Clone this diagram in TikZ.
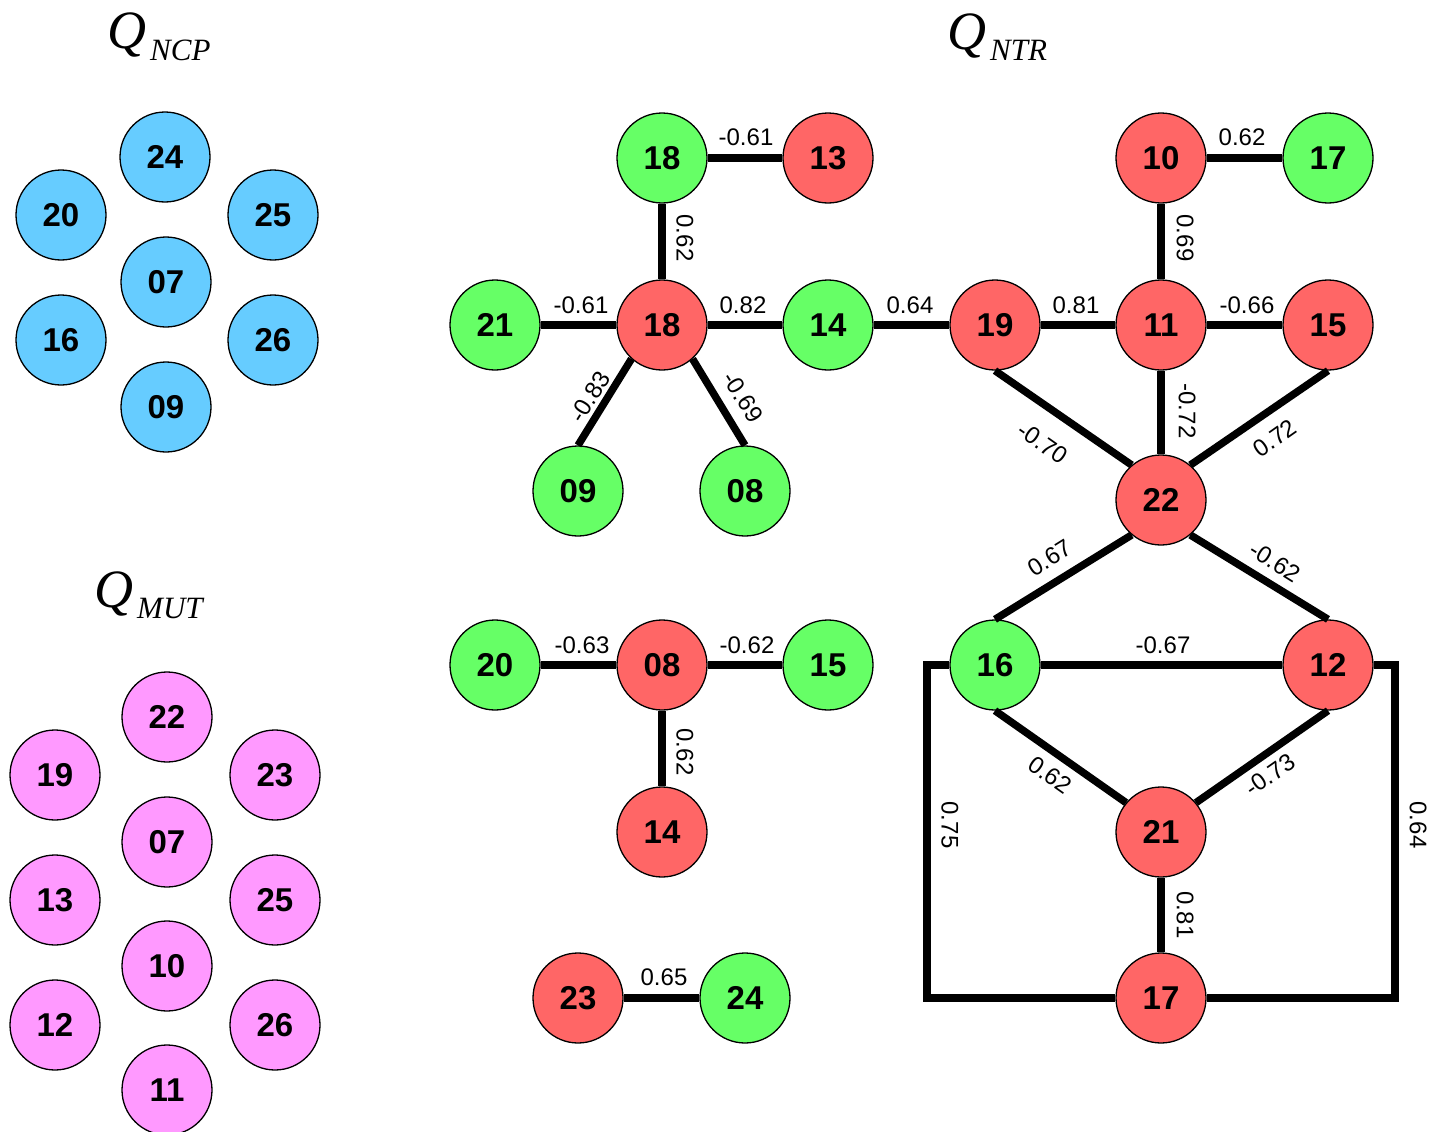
\documentclass[tikz,border=0pt]{standalone}
\usepackage{fontspec}
\setmainfont{Liberation Serif}
\newfontfamily\lsans{Liberation Sans}
\definecolor{cblue}{HTML}{66CCFF}
\definecolor{cgreen}{HTML}{66FF66}
\definecolor{cred}{HTML}{FF6666}
\definecolor{cpink}{HTML}{FF99FF}
\begin{document}
\begin{tikzpicture}[x=1pt,y=-1pt,
  vx/.style={circle, draw=black, line width=1.3pt, minimum size=90pt, inner sep=0pt,
             font=\lsans\bfseries\fontsize{33}{33}\selectfont},
  bl/.style={vx, fill=cblue},
  gr/.style={vx, fill=cgreen},
  rd/.style={vx, fill=cred},
  pk/.style={vx, fill=cpink},
  ed/.style={line width=7.5pt},
  lab/.style={font=\lsans\fontsize{24}{24}\selectfont, inner sep=0pt},
  ttl/.style={anchor=base west, inner sep=0pt}]
\useasboundingbox (0,0) rectangle (1441,1132);

% titles
\node[ttl] (tncp) at (107,49) {\fontsize{54}{54}\selectfont\itshape Q\kern4pt\raisebox{-11pt}{\fontsize{31}{31}\selectfont NCP}};
\node[ttl] (tmut) at (94,607) {\fontsize{54}{54}\selectfont\itshape Q\kern4pt\raisebox{-11pt}{\fontsize{31}{31}\selectfont MUT}};
\node[ttl] (tntr) at (947,50) {\fontsize{54}{54}\selectfont\itshape Q\kern4pt\raisebox{-11pt}{\fontsize{31}{31}\selectfont NTR}};

% Q_NCP
\node[bl] (n24) at (165,157) {24};
\node[bl] (n20) at (61,215) {20};
\node[bl] (n25) at (273,215) {25};
\node[bl] (n07) at (166,282) {07};
\node[bl] (n16) at (61,340) {16};
\node[bl] (n26) at (273,340) {26};
\node[bl] (n09) at (166,407) {09};

% Q_MUT
\node[pk] (m22) at (167,717) {22};
\node[pk] (m19) at (55,775) {19};
\node[pk] (m23) at (275,775) {23};
\node[pk] (m07) at (167,842) {07};
\node[pk] (m13) at (55,900) {13};
\node[pk] (m25) at (275,900) {25};
\node[pk] (m10) at (167,966) {10};
\node[pk] (m12) at (55,1025) {12};
\node[pk] (m26) at (275,1025) {26};
\node[pk] (m11) at (167,1090) {11};

% Q_NTR component A
\node[gr] (gA18) at (662,158) {18};
\node[rd] (rA13) at (828,158) {13};
\node[rd] (rA18) at (662,325) {18};
\node[gr] (gA21) at (495,325) {21};
\node[gr] (gA14) at (828,325) {14};
\node[gr] (gA09) at (578,491) {09};
\node[gr] (gA08) at (745,491) {08};
% component B
\node[rd] (rB10) at (1161,158) {10};
\node[gr] (gB17) at (1328,158) {17};
\node[rd] (rB19) at (995,325) {19};
\node[rd] (rB11) at (1161,325) {11};
\node[rd] (rB15) at (1328,325) {15};
\node[rd] (rB22) at (1161,500) {22};
\node[gr] (gB16) at (995,665) {16};
\node[rd] (rB12) at (1328,665) {12};
\node[rd] (rB21) at (1161,832) {21};
\node[rd] (rB17) at (1161,998) {17};
% component C
\node[gr] (gC20) at (495,665) {20};
\node[rd] (rC08) at (662,665) {08};
\node[gr] (gC15) at (828,665) {15};
\node[rd] (rC14) at (662,832) {14};
% component D
\node[rd] (rD23) at (578,998) {23};
\node[gr] (gD24) at (745,998) {24};

% box corners
\coordinate (cTL) at (927,665);
\coordinate (cBL) at (927,998);
\coordinate (cTR) at (1395,665);
\coordinate (cBR) at (1395,998);

% edges
\draw[ed] (gA18) -- (rA13);
\draw[ed] (gA18) -- (rA18);
\draw[ed] (gA21) -- (rA18);
\draw[ed] (rA18) -- (gA14);
\draw[ed] (gA14) -- (rB19);
\draw[ed] (rA18.228) -- (gA09.north);
\draw[ed] (rA18.312) -- (gA08.north);
\draw[ed] (rB10) -- (gB17);
\draw[ed] (rB10) -- (rB11);
\draw[ed] (rB19) -- (rB11);
\draw[ed] (rB11) -- (rB15);
\draw[ed] (rB11) -- (rB22);
\draw[ed] (rB19.south) -- (rB22.130);
\draw[ed] (rB15.south) -- (rB22.50);
\draw[ed] (rB22.230) -- (gB16.north);
\draw[ed] (rB22.310) -- (rB12.north);
\draw[ed] (gB16) -- (rB12);
\draw[ed] (gB16.south) -- (rB21.140);
\draw[ed] (rB12.south) -- (rB21.40);
\draw[ed] (rB21) -- (rB17);
\draw[ed] (gB16.west) -- (cTL) -- (cBL) -- (rB17.west);
\draw[ed] (rB12.east) -- (cTR) -- (cBR) -- (rB17.east);
\draw[ed] (gC20) -- (rC08);
\draw[ed] (rC08) -- (gC15);
\draw[ed] (rC08) -- (rC14);
\draw[ed] (rD23) -- (gD24);

% edge labels
\node[lab] (l1) at (746,137) {-0.61};
\node[lab, rotate=-90] (l2) at (685,238) {0.62};
\node[lab] (l3) at (581,305) {-0.61};
\node[lab] (l4) at (743,305) {0.82};
\node[lab] (l5) at (910,305) {0.64};
\node[lab, rotate=58] (l6) at (590,397) {-0.83};
\node[lab, rotate=-58] (l7) at (743,397) {-0.69};
\node[lab] (l8) at (1242,137) {0.62};
\node[lab, rotate=-90] (l9) at (1185,238) {0.69};
\node[lab] (l10) at (1076,305) {0.81};
\node[lab] (l11) at (1247,305) {-0.66};
\node[lab, rotate=-90] (l12) at (1187,411) {-0.72};
\node[lab, rotate=-35] (l13) at (1043,443) {-0.70};
\node[lab, rotate=35] (l14) at (1275,438) {0.72};
\node[lab, rotate=32] (l15) at (1050,558) {0.67};
\node[lab, rotate=-32] (l16) at (1275,562) {-0.62};
\node[lab] (l17) at (1163,645) {-0.67};
\node[lab, rotate=-35] (l18) at (1050,775) {0.62};
\node[lab, rotate=35] (l19) at (1270,775) {-0.73};
\node[lab, rotate=-90] (l20) at (1185,915) {0.81};
\node[lab, rotate=-90] (l21) at (950,825) {0.75};
\node[lab, rotate=-90] (l22) at (1418,825) {0.64};
\node[lab] (l23) at (582,645) {-0.63};
\node[lab] (l24) at (747,645) {-0.62};
\node[lab, rotate=-90] (l25) at (685,752) {0.62};
\node[lab] (l26) at (664,977) {0.65};
\end{tikzpicture}
\end{document}
